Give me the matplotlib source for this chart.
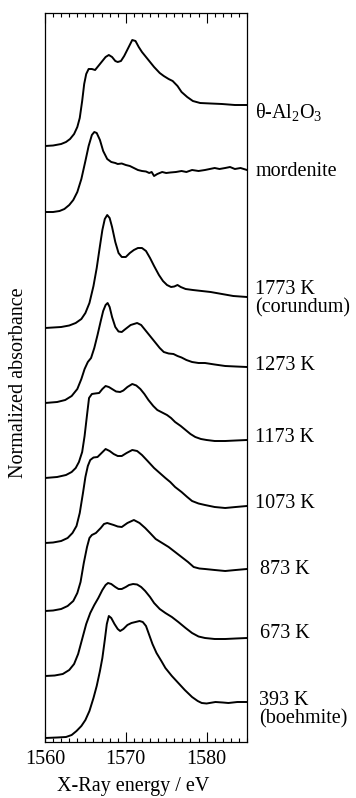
import numpy as np
import matplotlib
matplotlib.use('Agg')
import matplotlib.pyplot as plt

plt.rcParams['font.family'] = ['Liberation Serif', 'DejaVu Serif']
plt.rcParams['mathtext.fontset'] = 'custom'
plt.rcParams['mathtext.rm'] = 'Liberation Serif'
plt.rcParams['mathtext.it'] = 'Liberation Serif:italic'

# spectra, top to bottom: energy (eV), normalized absorbance, vertical offset
e_theta = [1560, 1561, 1562, 1562.6, 1563.1, 1563.6, 1564.0, 1564.3, 1564.6, 1564.85, 1565.1, 1565.4, 1565.8, 1566.2,
           1566.6, 1567.1, 1567.5, 1567.9, 1568.3, 1568.7, 1569.0, 1569.4, 1569.8, 1570.3, 1570.8, 1571.2, 1571.6,
           1572.0, 1572.7, 1573.5, 1574.2, 1574.7, 1575.3, 1575.8, 1576.4, 1576.9, 1577.6, 1578.3, 1579.2, 1580.5,
           1581.9, 1583.5, 1585]
a_theta = [0, .005, .02, .04, .07, .12, .19, .28, .45, .62, .72, .77, .77, .76,
           .80, .85, .89, .91, .89, .85, .84, .85, .90, .98, 1.06, 1.05, .99,
           .94, .87, .79, .73, .70, .67, .65, .60, .54, .49, .45, .43, .425,
           .42, .41, .41]

e_mord = [1560, 1561.0, 1561.8, 1562.4, 1563.0, 1563.5, 1564.0, 1564.5, 1565.0, 1565.4, 1565.8, 1566.1, 1566.4, 1566.8,
          1567.2, 1567.7, 1568.2, 1568.7, 1569.0, 1569.5, 1570.0, 1570.5, 1571.0, 1571.5, 1572.0, 1572.5, 1572.9,
          1573.2, 1573.5, 1573.9, 1574.5, 1575.0, 1575.5, 1576.2, 1576.9, 1577.5, 1578.2, 1579.0, 1579.8, 1580.4,
          1581.0, 1581.6, 1582.3, 1582.9, 1583.5, 1584.2, 1585]
a_mord = [0, 0, .01, .03, .07, .12, .20, .33, .51, .66, .77, .80, .79, .72,
          .61, .53, .50, .49, .48, .485, .47, .46, .44, .42, .41, .405, .39,
          .40, .36, .38, .40, .39, .395, .40, .41, .40, .42, .41, .42, .43,
          .44, .43, .44, .45, .43, .44, .42]

e_1773 = [1560, 1562, 1563.0, 1563.8, 1564.5, 1565.0, 1565.5, 1566.0, 1566.4, 1566.8, 1567.1, 1567.4, 1567.7, 1568.0,
          1568.3, 1568.7, 1569.1, 1569.5, 1570.0, 1570.5, 1571.0, 1571.5, 1572.0, 1572.5, 1573.0, 1573.5, 1574.1,
          1574.6, 1575.1, 1575.6, 1576.0, 1576.4, 1576.8, 1577.4, 1578.3, 1579.4, 1580.5, 1581.9, 1583.3, 1585]
a_1773 = [0, .01, .025, .05, .09, .15, .25, .42, .60, .82, .98, 1.09, 1.13, 1.10,
          1.01, .86, .75, .71, .71, .75, .78, .80, .80, .77, .70, .62, .53,
          .47, .43, .41, .415, .43, .41, .39, .38, .37, .36, .34, .32, .31]

e_1273 = [1560, 1561.5, 1562.5, 1563.3, 1564.0, 1564.5, 1564.9, 1565.3, 1565.7, 1566.1, 1566.5, 1566.9, 1567.2, 1567.5,
          1567.75, 1568.0, 1568.3, 1568.7, 1569.1, 1569.5, 1569.96, 1570.6, 1571.4, 1571.9, 1572.4, 1573.0, 1573.7,
          1574.2, 1574.7, 1575.3, 1575.9, 1576.4, 1576.9, 1577.5, 1578.2, 1579.0, 1579.8, 1581.0, 1582.3, 1583.6, 1585]
a_1273 = [0, .01, .03, .07, .14, .24, .34, .41, .45, .55, .68, .82, .92, .98,
          1.00, .96, .86, .76, .715, .71, .74, .78, .80, .78, .73, .67, .60,
          .55, .51, .495, .49, .47, .455, .43, .41, .40, .40, .385, .37, .365, .36]

e_1173 = [1560, 1561.5, 1562.6, 1563.3, 1563.8, 1564.2, 1564.6, 1564.9, 1565.2, 1565.45, 1565.8, 1566.2, 1566.7, 1567.1,
          1567.5, 1567.9, 1568.3, 1568.8, 1569.3, 1569.7, 1570.2, 1570.8, 1571.3, 1571.8, 1572.3, 1572.8, 1573.4,
          1573.9, 1574.5, 1575.1, 1575.6, 1576.1, 1576.8, 1577.4, 1578.0, 1578.6, 1579.3, 1580.0, 1581.0, 1582.3,
          1583.6, 1585]
a_1173 = [0, .01, .03, .06, .10, .16, .26, .42, .63, .80, .84, .845, .85, .89,
          .92, .91, .89, .865, .86, .875, .91, .94, .925, .89, .84, .78, .72,
          .68, .655, .63, .60, .56, .52, .48, .44, .41, .39, .38, .37, .37,
          .375, .38]

e_1073 = [1560, 1561.0, 1562.0, 1562.8, 1563.4, 1563.9, 1564.3, 1564.7, 1565.0, 1565.3, 1565.6, 1566.0, 1566.5, 1567.0,
          1567.5, 1568.0, 1568.5, 1569.0, 1569.5, 1570.1, 1570.8, 1571.4, 1572.0, 1572.7, 1573.5, 1574.2, 1574.9,
          1575.5, 1576.1, 1576.9, 1577.6, 1578.2, 1579.0, 1579.8, 1581.0, 1582.3, 1583.6, 1585]
a_1073 = [0, .005, .02, .05, .10, .17, .30, .50, .66, .77, .83, .855, .86, .90,
          .94, .92, .89, .87, .87, .90, .93, .92, .88, .82, .75, .70, .65,
          .61, .56, .51, .46, .42, .395, .38, .36, .35, .36, .37]

e_873 = [1560, 1561.0, 1562.0, 1562.8, 1563.5, 1564.0, 1564.4, 1564.8, 1565.2, 1565.5, 1565.8, 1566.3, 1566.9, 1567.3,
         1567.7, 1568.1, 1568.5, 1569.0, 1569.5, 1570.2, 1571.0, 1571.7, 1572.4, 1573.0, 1573.7, 1574.5, 1575.3,
         1576.1, 1576.9, 1577.7, 1578.4, 1579.1, 1579.8, 1581.0, 1582.3, 1583.6, 1585]
a_873 = [0, .005, .02, .05, .10, .18, .29, .48, .64, .73, .76, .78, .83, .87,
         .88, .87, .86, .845, .84, .88, .91, .88, .83, .78, .72, .68, .64,
         .59, .54, .49, .44, .425, .42, .41, .40, .41, .42]

e_673 = [1560, 1561.2, 1562.2, 1563.0, 1563.6, 1564.1, 1564.6, 1565.1, 1565.6, 1566.1, 1566.6, 1567.1, 1567.5, 1567.8,
         1568.2, 1568.7, 1569.1, 1569.5, 1570.0, 1570.4, 1570.9, 1571.4, 1571.9, 1572.4, 1573.0, 1573.5, 1574.2,
         1574.9, 1575.7, 1576.5, 1577.4, 1578.2, 1579.0, 1579.8, 1581.0, 1582.3, 1583.6, 1585]
a_673 = [0, .005, .02, .06, .12, .22, .37, .52, .63, .71, .78, .86, .91, .93,
         .92, .89, .87, .87, .89, .91, .92, .915, .89, .85, .79, .73, .67,
         .63, .59, .54, .48, .43, .395, .38, .37, .37, .375, .38]

e_393 = [1560, 1561.5, 1562.6, 1563.3, 1563.9, 1564.5, 1565.0, 1565.5, 1566.0, 1566.4, 1566.8, 1567.1, 1567.4, 1567.65,
         1567.9, 1568.2, 1568.6, 1569.0, 1569.3, 1569.7, 1570.2, 1570.7, 1571.2, 1571.7, 1572.1, 1572.5, 1572.9,
         1573.3, 1573.8, 1574.4, 1574.9, 1575.7, 1576.5, 1577.3, 1578.2, 1578.9, 1579.4, 1580.0, 1581.1, 1582.0,
         1582.7, 1583.8, 1585]
a_393 = [0, .005, .01, .03, .07, .12, .18, .27, .40, .52, .67, .80, .98, 1.14,
         1.22, 1.20, 1.14, 1.09, 1.07, 1.09, 1.13, 1.15, 1.16, 1.17, 1.16, 1.12, 1.03,
         .94, .85, .77, .70, .62, .55, .48, .41, .37, .35, .345, .36, .355,
         .35, .36, .36]

energies = [e_theta, e_mord, e_1773, e_1273, e_1173, e_1073, e_873, e_673, e_393]
spectra = [a_theta, a_mord, a_1773, a_1273, a_1173, a_1073, a_873, a_673, a_393]
offsets = [5.96, 5.30, 4.14, 3.39, 2.64, 1.99, 1.31, 0.66, 0.04]

labels = ['θ-Al$_2$O$_3$', 'mordenite', '1773 K\n(corundum)', '1273 K', '1173 K',
          '1073 K', '873 K', '673 K', '393 K\n(boehmite)']
label_y = [6.30, 5.70, 4.43, 3.77, 3.04, 2.39, 1.72, 1.09, 0.32]
label_x = [1586.0, 1586.0, 1586.0, 1586.0, 1586.0, 1586.0, 1586.6, 1586.6, 1586.5]

fig = plt.figure(figsize=(3.56, 7.98), dpi=100)
ax = fig.add_axes([45/356, 1-742/798, 202/356, 729/798])

for e, a, off in zip(energies, spectra, offsets):
    ax.plot(e, np.array(a) + off, color='black', lw=1.4, solid_joinstyle='round')

for lab, x, y in zip(labels, label_x, label_y):
    ax.text(x, y, lab, fontsize=14.5, va='center', ha='left', linespacing=0.95, clip_on=False)

ax.set_xlim(1560, 1585)
ax.set_ylim(0, 7.29)
ax.set_xticks([1560, 1570, 1580])
ax.set_xticks(np.arange(1560, 1586, 1), minor=True)
ax.set_yticks([])
ax.tick_params(axis='x', which='both', direction='in', top=True, bottom=True, labelsize=14.5, pad=6)
ax.tick_params(axis='x', which='major', length=7, width=0.8)
ax.tick_params(axis='x', which='minor', length=3, width=0.8)
for s in ax.spines.values():
    s.set_linewidth(0.9)

fig.text(133/356, 1-777/798, 'X-Ray energy / eV', fontsize=14.5, ha='center', va='top')
fig.text(19/356, 1-383/798, 'Normalized absorbance', fontsize=14.5, ha='center', va='center', rotation=90)

fig.savefig('out.png', dpi=100)
